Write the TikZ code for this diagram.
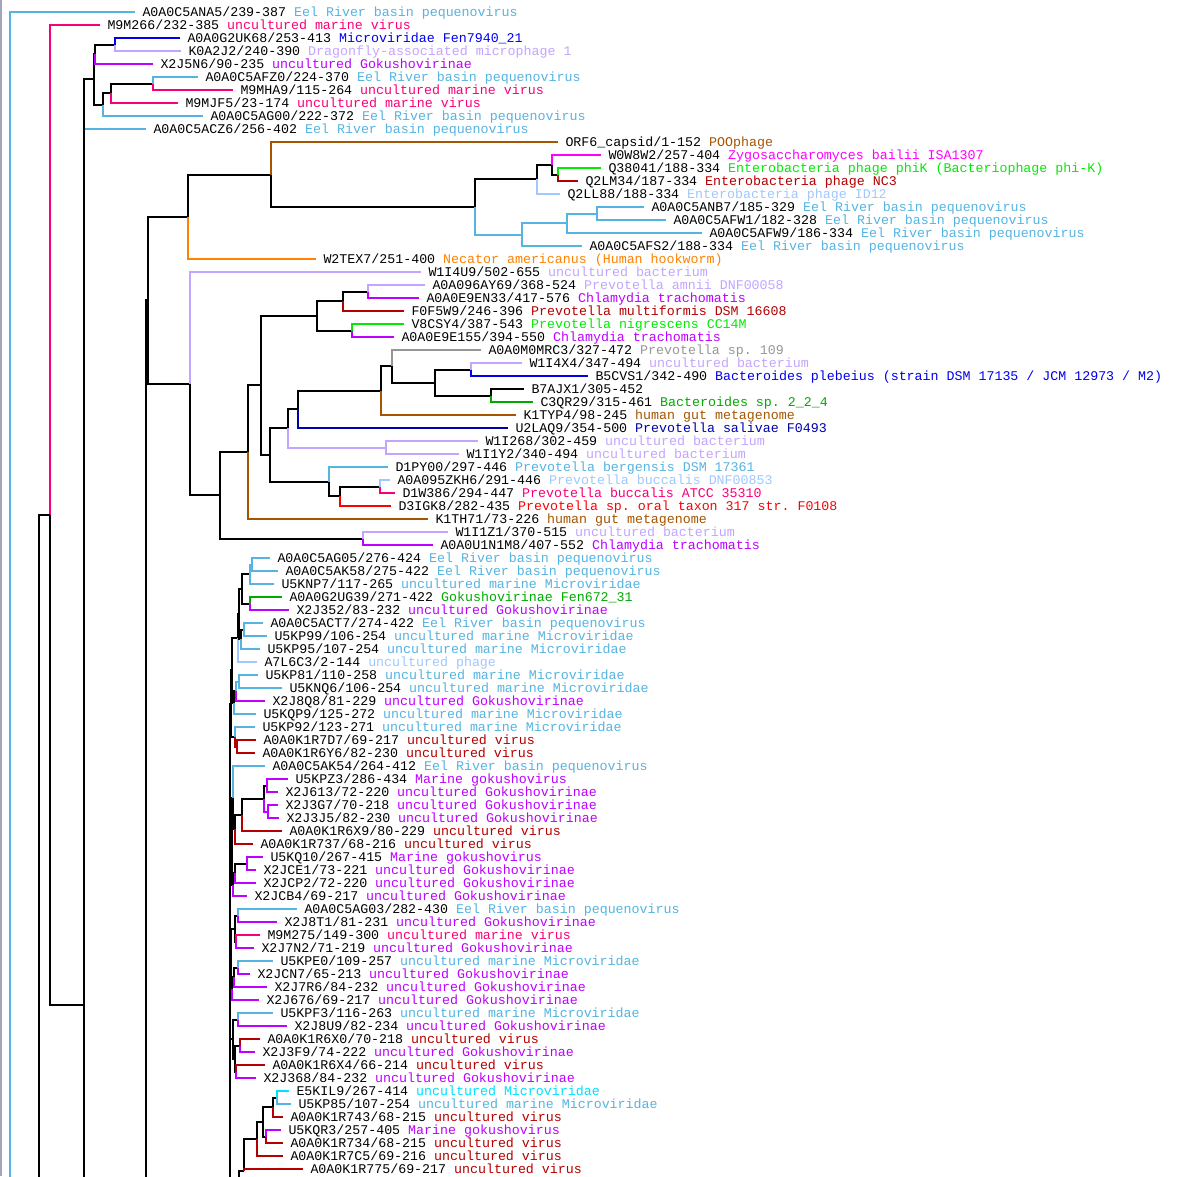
\documentclass[tikz,border=0pt]{standalone}
\usepackage{fontspec}
\setmonofont{Liberation Mono}
\usetikzlibrary{calc}
% species colours
\definecolor{eel}{RGB}{85,180,225}
\definecolor{mvir}{RGB}{250,0,120}
\definecolor{fen}{RGB}{0,0,235}
\definecolor{lav}{RGB}{195,165,255}
\definecolor{gok}{RGB}{190,0,255}
\definecolor{poo}{RGB}{165,85,0}
\definecolor{zyg}{RGB}{255,0,255}
\definecolor{phik}{RGB}{0,235,0}
\definecolor{dgrn}{RGB}{0,170,0}
\definecolor{dred}{RGB}{180,0,0}
\definecolor{lblu}{RGB}{160,200,255}
\definecolor{orng}{RGB}{255,130,0}
\definecolor{gry}{RGB}{150,150,150}
\definecolor{navyb}{RGB}{0,0,170}
\definecolor{rred}{RGB}{255,0,0}
\definecolor{cyn}{RGB}{0,225,255}
\definecolor{frame}{RGB}{165,165,185}
\newcommand\labfont{\ttfamily\fontsize{13.3}{15}\selectfont}
% leaf: name, branch end x, row, species colour, id, species
\newcommand\leaf[6]{%
  \pgfmathsetmacro\ly{12+13*#3}%
  \coordinate (#1) at (#2,\ly);
  \node[lab] (#1t) at (#2+6.5,\ly+4.5) {#5 \textcolor{#4}{#6}};}
% internal node: name, x, first child, last child (y = midpoint)
\newcommand\inode[4]{\path let \p1=($(#3)!0.5!(#4)$) in coordinate (#1) at (#2pt,\y1);}
% elbow branch from parent to child
\newcommand\br[3][black]{\draw[#1] (#2) |- (#3);}
\begin{document}
\begin{tikzpicture}[x=1pt,y=-1pt,line width=2pt,
  lab/.style={anchor=base west,inner sep=0pt,font=\labfont}]
\useasboundingbox (0,0) rectangle (1180,1176);
\fill[white] (0,0) rectangle (1180,1176);
\clip (0,0) rectangle (1180,1176);
\draw[frame,line width=1.6pt] (0.8,0) -- (0.8,1176);

% ---- leaves ----
\leaf{l0}{135}{0}{eel}{A0A0C5ANA5/239-387}{Eel River basin pequenovirus}
\leaf{l1}{100}{1}{mvir}{M9M266/232-385}{uncultured marine virus}
\leaf{l2}{180}{2}{fen}{A0A0G2UK68/253-413}{Microviridae Fen7940\_21}
\leaf{l3}{181}{3}{lav}{K0A2J2/240-390}{Dragonfly-associated microphage 1}
\leaf{l4}{153}{4}{gok}{X2J5N6/90-235}{uncultured Gokushovirinae}
\leaf{l5}{198}{5}{eel}{A0A0C5AFZ0/224-370}{Eel River basin pequenovirus}
\leaf{l6}{233}{6}{mvir}{M9MHA9/115-264}{uncultured marine virus}
\leaf{l7}{178}{7}{mvir}{M9MJF5/23-174}{uncultured marine virus}
\leaf{l8}{203}{8}{eel}{A0A0C5AG00/222-372}{Eel River basin pequenovirus}
\leaf{l9}{146}{9}{eel}{A0A0C5ACZ6/256-402}{Eel River basin pequenovirus}
\leaf{l10}{558}{10}{poo}{ORF6\_capsid/1-152}{POOphage}
\leaf{l11}{601}{11}{zyg}{W0W8W2/257-404}{Zygosaccharomyces bailii ISA1307}
\leaf{l12}{601}{12}{phik}{Q38041/188-334}{Enterobacteria phage phiK (Bacteriophage phi-K)}
\leaf{l13}{578}{13}{dred}{Q2LM34/187-334}{Enterobacteria phage NC3}
\leaf{l14}{560}{14}{lblu}{Q2LL88/188-334}{Enterobacteria phage ID12}
\leaf{l15}{644}{15}{eel}{A0A0C5ANB7/185-329}{Eel River basin pequenovirus}
\leaf{l16}{666}{16}{eel}{A0A0C5AFW1/182-328}{Eel River basin pequenovirus}
\leaf{l17}{702}{17}{eel}{A0A0C5AFW9/186-334}{Eel River basin pequenovirus}
\leaf{l18}{582}{18}{eel}{A0A0C5AFS2/188-334}{Eel River basin pequenovirus}
\leaf{l19}{316}{19}{orng}{W2TEX7/251-400}{Necator americanus (Human hookworm)}
\leaf{l20}{421}{20}{lav}{W1I4U9/502-655}{uncultured bacterium}
\leaf{l21}{425}{21}{lav}{A0A096AY69/368-524}{Prevotella amnii DNF00058}
\leaf{l22}{419}{22}{gok}{A0A0E9EN33/417-576}{Chlamydia trachomatis}
\leaf{l23}{404}{23}{dred}{F0F5W9/246-396}{Prevotella multiformis DSM 16608}
\leaf{l24}{404}{24}{phik}{V8CSY4/387-543}{Prevotella nigrescens CC14M}
\leaf{l25}{394}{25}{gok}{A0A0E9E155/394-550}{Chlamydia trachomatis}
\leaf{l26}{481}{26}{gry}{A0A0M0MRC3/327-472}{Prevotella sp. 109}
\leaf{l27}{522}{27}{lav}{W1I4X4/347-494}{uncultured bacterium}
\leaf{l28}{588}{28}{fen}{B5CVS1/342-490}{Bacteroides plebeius (strain DSM 17135 / JCM 12973 / M2)}
\leaf{l29}{524}{29}{black}{B7AJX1/305-452}{}
\leaf{l30}{533}{30}{dgrn}{C3QR29/315-461}{Bacteroides sp. 2\_2\_4}
\leaf{l31}{516}{31}{poo}{K1TYP4/98-245}{human gut metagenome}
\leaf{l32}{508}{32}{navyb}{U2LAQ9/354-500}{Prevotella salivae F0493}
\leaf{l33}{478}{33}{lav}{W1I268/302-459}{uncultured bacterium}
\leaf{l34}{459}{34}{lav}{W1I1Y2/340-494}{uncultured bacterium}
\leaf{l35}{388}{35}{eel}{D1PY00/297-446}{Prevotella bergensis DSM 17361}
\leaf{l36}{390}{36}{lblu}{A0A095ZKH6/291-446}{Prevotella buccalis DNF00853}
\leaf{l37}{395}{37}{mvir}{D1W386/294-447}{Prevotella buccalis ATCC 35310}
\leaf{l38}{391}{38}{rred}{D3IGK8/282-435}{Prevotella sp. oral taxon 317 str. F0108}
\leaf{l39}{428}{39}{poo}{K1TH71/73-226}{human gut metagenome}
\leaf{l40}{448}{40}{lav}{W1I1Z1/370-515}{uncultured bacterium}
\leaf{l41}{433}{41}{gok}{A0A0U1N1M8/407-552}{Chlamydia trachomatis}
\leaf{l42}{270}{42}{eel}{A0A0C5AG05/276-424}{Eel River basin pequenovirus}
\leaf{l43}{278}{43}{eel}{A0A0C5AK58/275-422}{Eel River basin pequenovirus}
\leaf{l44}{274}{44}{eel}{U5KNP7/117-265}{uncultured marine Microviridae}
\leaf{l45}{282}{45}{dgrn}{A0A0G2UG39/271-422}{Gokushovirinae Fen672\_31}
\leaf{l46}{289}{46}{gok}{X2J352/83-232}{uncultured Gokushovirinae}
\leaf{l47}{263}{47}{eel}{A0A0C5ACT7/274-422}{Eel River basin pequenovirus}
\leaf{l48}{267}{48}{eel}{U5KP99/106-254}{uncultured marine Microviridae}
\leaf{l49}{260}{49}{eel}{U5KP95/107-254}{uncultured marine Microviridae}
\leaf{l50}{257}{50}{lblu}{A7L6C3/2-144}{uncultured phage}
\leaf{l51}{258}{51}{eel}{U5KP81/110-258}{uncultured marine Microviridae}
\leaf{l52}{282}{52}{eel}{U5KNQ6/106-254}{uncultured marine Microviridae}
\leaf{l53}{265}{53}{gok}{X2J8Q8/81-229}{uncultured Gokushovirinae}
\leaf{l54}{256}{54}{eel}{U5KQP9/125-272}{uncultured marine Microviridae}
\leaf{l55}{255}{55}{eel}{U5KP92/123-271}{uncultured marine Microviridae}
\leaf{l56}{256}{56}{dred}{A0A0K1R7D7/69-217}{uncultured virus}
\leaf{l57}{255}{57}{dred}{A0A0K1R6Y6/82-230}{uncultured virus}
\leaf{l58}{265}{58}{eel}{A0A0C5AK54/264-412}{Eel River basin pequenovirus}
\leaf{l59}{288}{59}{gok}{U5KPZ3/286-434}{Marine gokushovirus}
\leaf{l60}{278}{60}{gok}{X2J613/72-220}{uncultured Gokushovirinae}
\leaf{l61}{278}{61}{gok}{X2J3G7/70-218}{uncultured Gokushovirinae}
\leaf{l62}{279}{62}{gok}{X2J3J5/82-230}{uncultured Gokushovirinae}
\leaf{l63}{282}{63}{dred}{A0A0K1R6X9/80-229}{uncultured virus}
\leaf{l64}{253}{64}{dred}{A0A0K1R737/68-216}{uncultured virus}
\leaf{l65}{263}{65}{gok}{U5KQ10/267-415}{Marine gokushovirus}
\leaf{l66}{256}{66}{gok}{X2JCE1/73-221}{uncultured Gokushovirinae}
\leaf{l67}{256}{67}{gok}{X2JCP2/72-220}{uncultured Gokushovirinae}
\leaf{l68}{247}{68}{gok}{X2JCB4/69-217}{uncultured Gokushovirinae}
\leaf{l69}{297}{69}{eel}{A0A0C5AG03/282-430}{Eel River basin pequenovirus}
\leaf{l70}{277}{70}{gok}{X2J8T1/81-231}{uncultured Gokushovirinae}
\leaf{l71}{260}{71}{mvir}{M9M275/149-300}{uncultured marine virus}
\leaf{l72}{254}{72}{gok}{X2J7N2/71-219}{uncultured Gokushovirinae}
\leaf{l73}{273}{73}{eel}{U5KPE0/109-257}{uncultured marine Microviridae}
\leaf{l74}{250}{74}{gok}{X2JCN7/65-213}{uncultured Gokushovirinae}
\leaf{l75}{267}{75}{gok}{X2J7R6/84-232}{uncultured Gokushovirinae}
\leaf{l76}{259}{76}{gok}{X2J676/69-217}{uncultured Gokushovirinae}
\leaf{l77}{273}{77}{eel}{U5KPF3/116-263}{uncultured marine Microviridae}
\leaf{l78}{287}{78}{gok}{X2J8U9/82-234}{uncultured Gokushovirinae}
\leaf{l79}{260}{79}{dred}{A0A0K1R6X0/70-218}{uncultured virus}
\leaf{l80}{255}{80}{gok}{X2J3F9/74-222}{uncultured Gokushovirinae}
\leaf{l81}{265}{81}{dred}{A0A0K1R6X4/66-214}{uncultured virus}
\leaf{l82}{256}{82}{gok}{X2J368/84-232}{uncultured Gokushovirinae}
\leaf{l83}{289}{83}{cyn}{E5KIL9/267-414}{uncultured Microviridae}
\leaf{l84}{291}{84}{eel}{U5KP85/107-254}{uncultured marine Microviridae}
\leaf{l85}{283}{85}{dred}{A0A0K1R743/68-215}{uncultured virus}
\leaf{l86}{281}{86}{gok}{U5KQR3/257-405}{Marine gokushovirus}
\leaf{l87}{283}{87}{dred}{A0A0K1R734/68-215}{uncultured virus}
\leaf{l88}{283}{88}{dred}{A0A0K1R7C5/69-216}{uncultured virus}
\leaf{l89}{303}{89}{dred}{A0A0K1R775/69-217}{uncultured virus}

% ---- internal nodes, upper group ----
\inode{A}{114.6}{l2}{l3}
\inode{B}{95.4}{A}{l4}
\inode{F}{153}{l5}{l6}
\inode{G}{110.8}{F}{l7}
\inode{E}{103}{G}{l8}
\inode{D}{94.2}{B}{E}
\coordinate (P83) at (83.5,1005);
\coordinate (P83e) at (83.5,1190);
\coordinate (P50) at (50,515);
\coordinate (R38) at (38.5,1190);
\coordinate (R10) at (10,1190);

% ---- capsid / Prevotella group ----
\inode{N1}{558}{l12}{l13}
\inode{N2}{552}{l11}{N1}
\inode{N3}{537}{N2}{l14}
\inode{E3}{597}{l15}{l16}
\inode{E2}{567}{E3}{l17}
\inode{E1}{522}{E2}{l18}
\inode{N4}{475}{N3}{E1}
\inode{N5}{271}{l10}{N4}
\inode{N6}{188}{N5}{l19}
\inode{M9}{367.7}{l21}{l22}
\inode{M10}{342.7}{M9}{l23}
\inode{M11}{351.7}{l24}{l25}
\inode{M6}{316.7}{M10}{M11}
\inode{M16}{470.7}{l27}{l28}
\inode{M17}{490.7}{l29}{l30}
\inode{M15}{435}{M16}{M17}
\inode{M14}{391.7}{l26}{M15}
\inode{M13}{381}{M14}{l31}
\inode{M18}{297.5}{M13}{l32}
\inode{M20}{386}{l33}{l34}
\inode{M19}{287.5}{M18}{M20}
\inode{M24}{380.4}{l36}{l37}
\inode{M23}{340.4}{M24}{l38}
\inode{M22}{329}{l35}{M23}
\inode{M21}{270}{M19}{M22}
\inode{M5}{261}{M6}{M21}
\inode{M3}{248}{M5}{l39}
\inode{M4}{363.3}{l40}{l41}
\inode{M2}{220}{M3}{M4}
\inode{M1}{190}{l20}{M2}
\inode{Q}{147.5}{N6}{M1}
\coordinate (R146) at (146,1190);

% ---- Gokushovirinae group ----
\inode{S1}{251.7}{l42}{l43}
\inode{S2}{250}{S1}{l44}
\inode{S4}{250}{l45}{l46}
\inode{S3}{241.7}{S2}{S4}
\inode{S5}{244.3}{l47}{l48}
\inode{S6}{240.5}{S5}{l49}
\inode{Y}{239.3}{S3}{S6}
\inode{X}{238.3}{Y}{l50}
\inode{S8}{239.3}{l51}{l52}
\inode{S9}{235.5}{S8}{l53}
\inode{Z}{233.5}{S9}{l54}
\inode{T2}{232.3}{X}{Z}
\inode{S10}{236.5}{l56}{l57}
\inode{S11}{234.5}{l55}{S10}
\inode{T3}{231.3}{T2}{S11}
\inode{S12}{266.7}{l59}{l60}
\inode{S13}{268.3}{l61}{l62}
\inode{S14}{264.3}{S12}{S13}
\inode{S15}{241.7}{S14}{l63}
\inode{S16}{235}{S15}{l64}
\inode{S17}{232.7}{l58}{S16}
\inode{S18}{246.7}{l65}{l66}
\inode{S19}{235.2}{S18}{l67}
\inode{S20}{233.2}{S19}{l68}
\inode{T5}{231.5}{S17}{S20}
\inode{S21}{238.3}{l69}{l70}
\inode{S22a}{236}{l71}{l72}
\inode{S22}{234.5}{S21}{S22a}
\inode{S23}{238.3}{l73}{l74}
\inode{S24}{233.5}{S23}{l75}
\inode{S25}{232}{S24}{l76}
\inode{T6}{231.2}{S22}{S25}
\inode{S26}{238.3}{l77}{l78}
\inode{S27}{240}{l79}{l80}
\inode{S28}{236.2}{l81}{l82}
\inode{S29}{234.5}{S27}{S28}
\inode{S30}{232.5}{S26}{S29}
\inode{S31}{276.7}{l83}{l84}
\inode{S32}{272.7}{S31}{l85}
\inode{S33}{266}{l86}{l87}
\inode{S34}{263.3}{S32}{S33}
\inode{S35}{256.7}{S34}{l88}
\coordinate (S36) at (244.3,1171);
\coordinate (R239) at (239.3,1190);
\coordinate (R230) at (230.3,1190);

% ---- branches, upper group ----
\br[eel]{R10}{l0}
\br[mvir]{P50}{l1}
\br{R38}{P50}
\br{P50}{P83}
\draw (P83) -- (P83e);
\br[eel]{P83}{l9}
\br{P83}{D}
\br{D}{B}
\br{D}{E}
\br{B}{A}
\br[gok]{B}{l4}
\br[fen]{A}{l2}
\br[lav]{A}{l3}
\br{E}{G}
\br[eel]{E}{l8}
\br{G}{F}
\br[mvir]{G}{l7}
\br[eel]{F}{l5}
\br[mvir]{F}{l6}

% ---- branches, capsid / Prevotella group ----
\br{R146}{Q}
\br{Q}{N6}
\br{Q}{M1}
\br{N6}{N5}
\br[orng]{N6}{l19}
\br[poo]{N5}{l10}
\br{N5}{N4}
\br{N4}{N3}
\br[eel]{N4}{E1}
\br{N3}{N2}
\br[lblu]{N3}{l14}
\br[zyg]{N2}{l11}
\br{N2}{N1}
\br[phik]{N1}{l12}
\br[dred]{N1}{l13}
\br[eel]{E1}{E2}
\br[eel]{E1}{l18}
\br[eel]{E2}{E3}
\br[eel]{E2}{l17}
\br[eel]{E3}{l15}
\br[eel]{E3}{l16}
\br[lav]{M1}{l20}
\br{M1}{M2}
\br{M2}{M3}
\br{M2}{M4}
\br{M3}{M5}
\br[poo]{M3}{l39}
\br{M5}{M6}
\br{M5}{M21}
\br{M6}{M10}
\br{M6}{M11}
\br{M10}{M9}
\br[dred]{M10}{l23}
\br[lav]{M9}{l21}
\br[gok]{M9}{l22}
\br[phik]{M11}{l24}
\br[gok]{M11}{l25}
\br{M21}{M19}
\br{M21}{M22}
\br{M19}{M18}
\br[lav]{M19}{M20}
\br[lav]{M20}{l33}
\br[lav]{M20}{l34}
\br{M18}{M13}
\br[navyb]{M18}{l32}
\br{M13}{M14}
\br[poo]{M13}{l31}
\br[gry]{M14}{l26}
\br{M14}{M15}
\br{M15}{M16}
\br{M15}{M17}
\br[lav]{M16}{l27}
\br[fen]{M16}{l28}
\br{M17}{l29}
\br[dgrn]{M17}{l30}
\br[eel]{M22}{l35}
\br{M22}{M23}
\br{M23}{M24}
\br[rred]{M23}{l38}
\br[lblu]{M24}{l36}
\br[mvir]{M24}{l37}
\br[lav]{M4}{l40}
\br[gok]{M4}{l41}

% ---- branches, Gokushovirinae group ----
\br{R230}{T3}
\br{R230}{T5}
\br{R230}{T6}
\br{R230}{S30}
\br{T3}{T2}
\br{T3}{S11}
\br{T2}{X}
\br{T2}{Z}
\br{X}{Y}
\br[lblu]{X}{l50}
\br{Y}{S3}
\br{Y}{S6}
\br{S3}{S2}
\br{S3}{S4}
\br[eel]{S2}{S1}
\br[eel]{S2}{l44}
\br[eel]{S1}{l42}
\br[eel]{S1}{l43}
\br[dgrn]{S4}{l45}
\br[gok]{S4}{l46}
\br{S6}{S5}
\br[eel]{S6}{l49}
\br[eel]{S5}{l47}
\br[eel]{S5}{l48}
\br{Z}{S9}
\br[eel]{Z}{l54}
\br[eel]{S9}{S8}
\br[gok]{S9}{l53}
\br[eel]{S8}{l51}
\br[eel]{S8}{l52}
\br[eel]{S11}{l55}
\br[dred]{S11}{S10}
\br[dred]{S10}{l56}
\br[dred]{S10}{l57}
\br{T5}{S17}
\br{T5}{S20}
\br[eel]{S17}{l58}
\br{S17}{S16}
\br{S16}{S15}
\br[dred]{S16}{l64}
\br{S15}{S14}
\br[dred]{S15}{l63}
\br{S14}{S12}
\br[gok]{S14}{S13}
\br[gok]{S12}{l59}
\br[gok]{S12}{l60}
\br[gok]{S13}{l61}
\br[gok]{S13}{l62}
\br{S20}{S19}
\br[gok]{S20}{l68}
\br{S19}{S18}
\br[gok]{S19}{l67}
\br[gok]{S18}{l65}
\br[gok]{S18}{l66}
\br{T6}{S22}
\br{T6}{S25}
\br{S22}{S21}
\br{S22}{S22a}
\br[eel]{S21}{l69}
\br[gok]{S21}{l70}
\br[mvir]{S22a}{l71}
\br[gok]{S22a}{l72}
\br{S25}{S24}
\br[gok]{S25}{l76}
\br{S24}{S23}
\br[gok]{S24}{l75}
\br[eel]{S23}{l73}
\br[gok]{S23}{l74}
\br{S30}{S26}
\br{S30}{S29}
\br[eel]{S26}{l77}
\br[gok]{S26}{l78}
\br{S29}{S27}
\br{S29}{S28}
\br[dred]{S27}{l79}
\br[gok]{S27}{l80}
\br[dred]{S28}{l81}
\br[gok]{S28}{l82}
\br{R239}{S36}
\br{S36}{S35}
\br[dred]{S36}{l89}
\br{S35}{S34}
\br[dred]{S35}{l88}
\br{S34}{S32}
\br{S34}{S33}
\br{S32}{S31}
\br[dred]{S32}{l85}
\br[cyn]{S31}{l83}
\br[eel]{S31}{l84}
\br[gok]{S33}{l86}
\br[dred]{S33}{l87}
\end{tikzpicture}
\end{document}
